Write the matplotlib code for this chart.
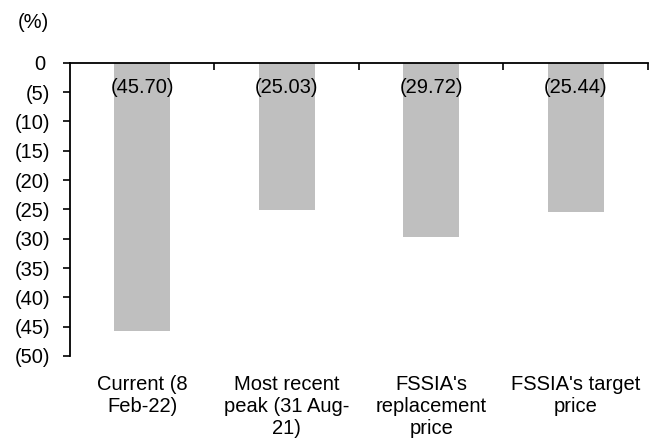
import matplotlib
matplotlib.use("Agg")
import matplotlib.pyplot as plt
from matplotlib.transforms import ScaledTranslation

categories = [
    "Current (8\nFeb-22)",
    "Most recent\npeak (31 Aug-\n21)",
    "FSSIA's\nreplacement\nprice",
    "FSSIA's target\nprice",
]
values = [-45.70, -25.03, -29.72, -25.44]
y_ticks = [0, -5, -10, -15, -20, -25, -30, -35, -40, -45, -50]


def fmt(v):
    return f"({abs(v):,.2f})" if v < 0 else f"{v:,.2f}"


def fmt_axis(v):
    return f"({abs(v):.0f})" if v < 0 else f"{v:.0f}"


plt.rcParams["font.family"] = ["Liberation Sans", "DejaVu Sans"]
plt.rcParams["font.size"] = 14.5

fig = plt.figure(figsize=(6.61, 4.46), dpi=100)
ax = fig.add_axes([0.1059, 0.2018, 0.9803 - 0.1059, 0.8594 - 0.2018])

x = list(range(len(categories)))
ax.bar(x, values, width=0.39, color="#bfbfbf", zorder=2)

for xi, v in zip(x, values):
    ax.text(xi, -4.2, fmt(v), ha="center", va="center", color="black", zorder=3)

ax.set_xlim(-0.5, len(categories) - 0.5)
ax.set_ylim(-50, 0)
ax.set_yticks(y_ticks)
ax.set_yticklabels([fmt_axis(t) for t in y_ticks])

ax.set_xticks(x)
ax.set_xticklabels(categories, linespacing=1.19)
ax.tick_params(axis="x", which="major", length=0, pad=14)
ax.set_xticks([0.5, 1.5, 2.5, 3.5], minor=True)
ax.tick_params(axis="x", which="minor", bottom=False, top=True,
               direction="in", length=5, width=1.2)
ax.tick_params(axis="y", direction="out", length=5, width=1.2, pad=9)

for side in ("bottom", "right"):
    ax.spines[side].set_visible(False)
for side in ("left", "top"):
    ax.spines[side].set_linewidth(1.3)

# the zero label sits one bracket-width further left, like the other labels' digits
for lbl, t in zip(ax.get_yticklabels(), y_ticks):
    if t == 0:
        lbl.set_transform(lbl.get_transform() + ScaledTranslation(-5 / 100, 0, fig.dpi_scale_trans))

fig.text(49 / 661, 1 - 23 / 446, "(%)", ha="right", va="center")

fig.savefig("out.png", dpi=100)
